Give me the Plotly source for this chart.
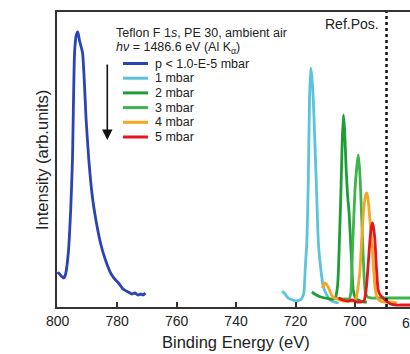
import plotly.graph_objects as go

# ---------------- data ----------------
series_names = ["p < 1.0-E-5 mbar", "1 mbar", "2 mbar", "3 mbar", "4 mbar", "5 mbar"]
series_colors = ["#2a44b4", "#5cc3dc", "#1f9e38", "#3db54a", "#f6a623", "#e5161e"]

e_vac = [800.0, 799.6, 798.8, 797.9, 797.3, 796.4, 795.6, 795.0, 794.3, 793.7, 793.2, 792.6,
         791.6, 790.4, 789.5, 788.3, 787.4, 787.0, 785.5, 783.9, 782.0, 780.5, 779.5, 778.0,
         776.2, 775.0, 774.0, 773.0, 772.0, 771.2, 770.5]
i_vac = [33, 34, 31, 29, 33, 54, 97, 147, 254, 272, 275, 266,
         254, 187, 147, 110, 92, 85, 63, 47, 33, 27, 24, 18,
         15, 13, 14, 12, 13, 12, 14]

e_1 = [724.5, 723.5, 722.5, 721.0, 719.5, 718.0, 717.2, 716.7, 716.2, 715.7, 715.3, 714.9,
       714.5, 714.0, 713.1, 712.3, 711.5, 710.7, 709.5, 708.4, 707.0, 705.5]
i_1 = [16, 13, 9, 7, 6, 8, 14, 40, 64, 126, 206, 239,
       230, 206, 132, 64, 38, 21, 12, 7, 5, 4]

e_2 = [714.5, 713.0, 711.5, 710.0, 708.5, 707.2, 706.5, 705.9, 705.6, 705.2, 704.8, 704.3,
       703.9, 703.5, 703.0, 702.5, 702.0, 701.3, 700.6, 699.8, 699.0, 698.0, 697.0, 696.0]
i_2 = [15, 12, 10, 9, 8, 8, 10, 20, 34, 70, 107, 165,
       192, 178, 140, 112, 95, 55, 17, 9, 7, 6, 5, 5]

e_3 = [706.0, 704.5, 703.0, 702.0, 701.4, 700.8, 700.0, 699.4, 698.9, 698.5, 698.1, 697.5,
       696.6, 695.8, 694.5, 693.0, 691.0, 689.0, 687.0, 685.0, 683.0, 681.5]
i_3 = [9, 8, 8, 8, 14, 60, 117, 140, 152, 140, 117, 70,
       17, 10, 9, 9, 9, 9, 9, 9, 9, 9]

e_4 = [711.0, 710.1, 709.2, 708.3, 707.5, 706.0, 704.0, 702.0, 700.5, 699.6, 699.1, 698.4,
       697.7, 697.0, 696.4, 696.0, 695.5, 695.0, 694.4, 693.8, 693.2, 692.5, 691.5, 690.0,
       688.0, 686.0]
i_4 = [19, 24, 21, 15, 10, 8, 6, 6, 6, 9, 17, 34,
       70, 100, 112, 114, 105, 88, 67, 40, 18, 9, 6, 5,
       5, 4]

e_5 = [705.5, 704.0, 702.5, 701.0, 699.5, 698.0, 697.0, 696.5, 696.0, 695.5, 695.0, 694.5,
       694.1, 693.7, 693.3, 692.8, 692.2, 691.5, 690.5, 689.5, 688.0, 686.0, 684.0, 682.0,
       681.5]
i_5 = [9, 7, 6, 7, 5, 5, 6, 12, 25, 45, 66, 80,
       84, 78, 67, 40, 17, 12, 9, 6, 3, 2, 2, 2,
       2]

x_ticks = [800, 780, 760, 740, 720, 700, 680]
ref_pos = 689.4
x_range = [800.2, 681.5]
y_range = [0, 295]

energies = [e_vac, e_1, e_2, e_3, e_4, e_5]
intensities = [i_vac, i_1, i_2, i_3, i_4, i_5]

# ---------------- layout geometry ----------------
W, H = 410, 354
L, T = 57, 12
PW, PH = W - L, 295
B = H - T - PH
FONT = "Liberation Sans, Arial, Helvetica, sans-serif"
TXT = "#222222"


def px(x):
    return (x - L) / PW


def py(y):
    return (T + PH - y) / PH


fig = go.Figure()
for name, col, xs, ys in zip(series_names, series_colors, energies, intensities):
    fig.add_trace(go.Scatter(x=xs, y=ys, mode="lines", name=name,
                             line=dict(color=col, width=2.8, shape="spline", smoothing=0.5),
                             showlegend=False))

# reference position line
fig.add_shape(type="line", xref="x", yref="paper", x0=ref_pos, x1=ref_pos, y0=0, y1=1,
              line=dict(color="#111111", width=2.5, dash="dot"))

ann = []
# manual legend (compact spacing as in the reference)
row0, step = 63.5, 14.7
for k, (name, col) in enumerate(zip(series_names, series_colors)):
    yy = row0 + k * step
    fig.add_shape(type="line", xref="paper", yref="paper", x0=px(123), x1=px(148),
                  y0=py(yy), y1=py(yy), line=dict(color=col, width=3))
    ann.append(dict(xref="paper", yref="paper", x=px(153), y=py(yy), text=name,
                    showarrow=False, xanchor="left", yanchor="middle",
                    font=dict(size=12.5, color=TXT, family=FONT)))

# header text
ann.append(dict(xref="paper", yref="paper", x=px(114), y=py(33),
                text="Teflon F 1<i>s</i>, PE 30, ambient air", showarrow=False,
                xanchor="left", yanchor="middle", font=dict(size=12.5, color=TXT, family=FONT)))
ann.append(dict(xref="paper", yref="paper", x=px(114), y=py(48),
                text="<i>hν</i> = 1486.6 eV (Al K<sub>α</sub>)", showarrow=False,
                xanchor="left", yanchor="middle", font=dict(size=12.5, color=TXT, family=FONT)))
# arrow
ann.append(dict(xref="paper", yref="paper", x=px(107.3), y=py(140), ax=0, ay=-77,
                axref="pixel", ayref="pixel", text="", showarrow=True, arrowhead=2,
                arrowsize=1.3, arrowwidth=1.6, arrowcolor="#111111", standoff=0))
# Ref.Pos. label
ann.append(dict(xref="paper", yref="paper", x=px(352), y=py(24), text="Ref.Pos.",
                showarrow=False, xanchor="center", yanchor="middle",
                font=dict(size=14, color=TXT, family=FONT)))
# axis titles
ann.append(dict(xref="paper", yref="paper", x=px(236), y=py(342), text="Binding Energy (eV)",
                showarrow=False, xanchor="center", yanchor="middle",
                font=dict(size=16.5, color=TXT, family=FONT)))
ann.append(dict(xref="paper", yref="paper", x=px(42), y=py(160), text="Intensity (arb.units)",
                showarrow=False, xanchor="center", yanchor="middle", textangle=-90,
                font=dict(size=16.5, color=TXT, family=FONT)))
# partially visible last tick label (beyond the cropped edge)
ann.append(dict(xref="paper", yref="paper",
                x=(x_range[0] - x_ticks[-1]) / (x_range[0] - x_range[1]), y=py(323),
                text=str(x_ticks[-1]), showarrow=False, xanchor="center", yanchor="middle",
                font=dict(size=14, color=TXT, family=FONT)))

fig.update_layout(
    width=W, height=H,
    margin=dict(l=L, r=0, t=T, b=B, pad=0),
    paper_bgcolor="white", plot_bgcolor="white",
    annotations=ann,
    showlegend=False,
    xaxis=dict(range=x_range, tickvals=x_ticks[:-1], ticktext=[str(v) for v in x_ticks[:-1]],
               ticks="inside", ticklen=5, tickwidth=1.5, tickcolor="#333333",
               showline=True, linecolor="#333333", linewidth=1.5, mirror=True,
               showgrid=False, zeroline=False,
               tickfont=dict(size=14, color=TXT, family=FONT)),
    yaxis=dict(range=y_range, showticklabels=False, ticks="",
               showline=True, linecolor="#333333", linewidth=1.5, mirror=False,
               showgrid=False, zeroline=False),
)

fig.write_html("out.html")
